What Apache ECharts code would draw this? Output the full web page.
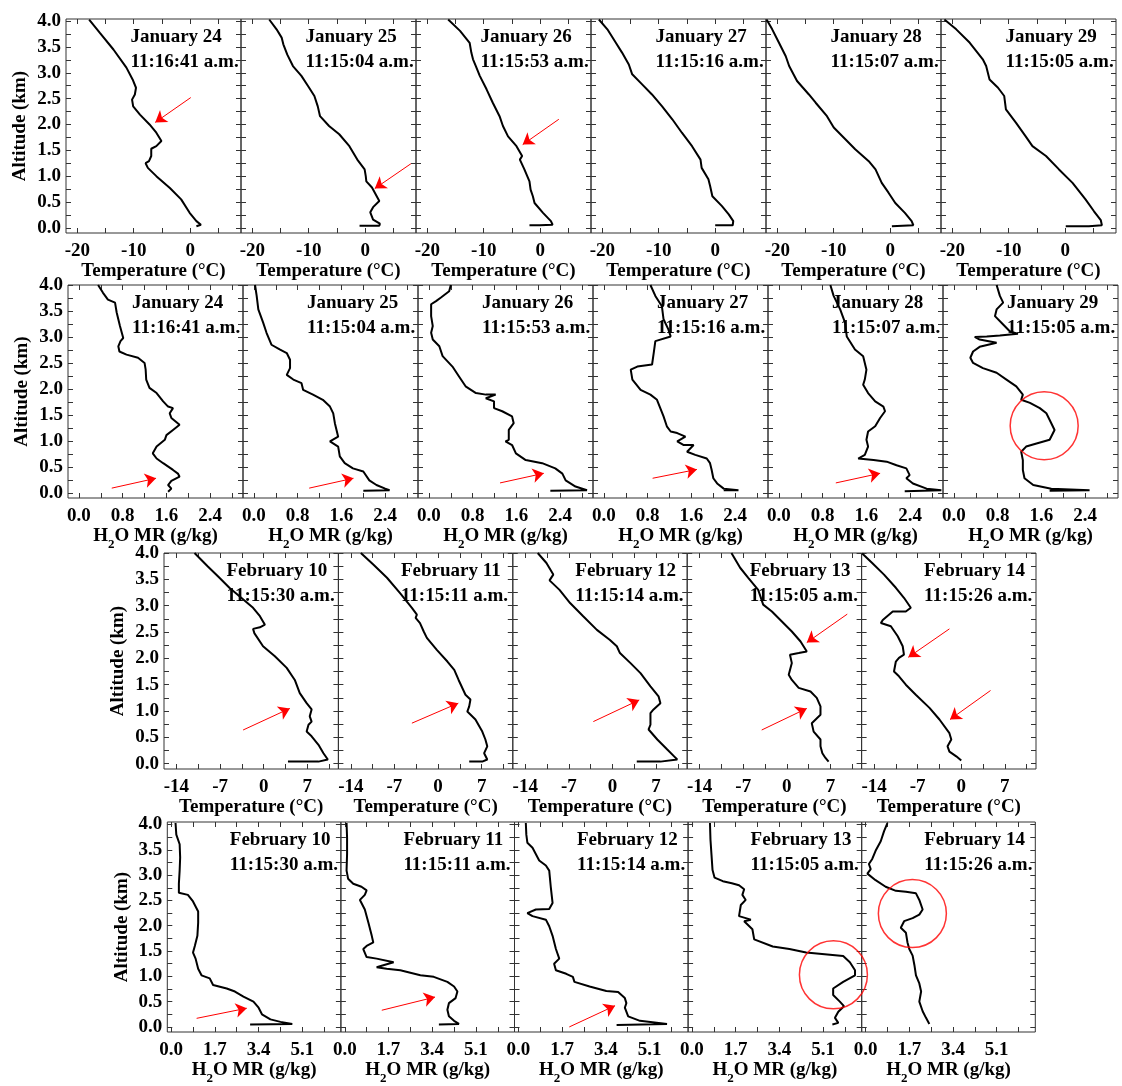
<!DOCTYPE html>
<html><head><meta charset="utf-8">
<script src="https://cdn.jsdelivr.net/npm/echarts@6.0.0/dist/echarts.min.js"></script>
<style>html,body{margin:0;padding:0;background:#fff}#c{width:1122px;height:1086px}</style>
</head><body><div id="c"></div>
<script>
// ---------- labels ----------
const JAN_DATES = ['January 24','January 25','January 26','January 27','January 28','January 29'];
const JAN_TIMES = ['11:16:41 a.m.','11:15:04 a.m.','11:15:53 a.m.','11:15:16 a.m.','11:15:07 a.m.','11:15:05 a.m.'];
const FEB_DATES = ['February 10','February 11','February 12','February 13','February 14'];
const FEB_TIMES = ['11:15:30 a.m.','11:15:11 a.m.','11:15:14 a.m.','11:15:05 a.m.','11:15:26 a.m.'];

// ---------- tick values ----------
const ALT_LABELS = [0,0.5,1,1.5,2,2.5,3,3.5,4];
const ALT_TICKS = [0,0.25,0.5,0.75,1,1.25,1.5,1.75,2,2.25,2.5,2.75,3,3.25,3.5,3.75,4];
const TEMP_JAN_LABELS = [-20,-10,0];
const TEMP_JAN_TICKS = [-20,-15,-10,-5,0,5];
const MR_JAN_LABELS = [0,0.8,1.6,2.4];
const MR_JAN_TICKS = [0,0.4,0.8,1.2,1.6,2.0,2.4,2.8];
const TEMP_FEB_LABELS = [-14,-7,0,7];
const TEMP_FEB_TICKS = [-14,-10.5,-7,-3.5,0,3.5,7,10.5];
const MR_FEB_LABELS = [0,1.7,3.4,5.1];
const MR_FEB_TICKS = [0,0.85,1.7,2.55,3.4,4.25,5.1,5.95];

// ---------- temperature profiles, January [T (°C), altitude (km)] ----------
const T_JAN24 = [[-17.9,4.03],[-16.0,3.77],[-13.6,3.45],[-11.3,3.1],[-10.2,2.87],[-9.6,2.71],[-9.8,2.58],[-10.3,2.48],[-10.1,2.35],[-8.9,2.19],[-7.2,2.0],[-6.0,1.84],[-5.1,1.68],[-6.0,1.58],[-6.9,1.53],[-6.9,1.39],[-7.3,1.29],[-7.9,1.25],[-7.5,1.16],[-6.0,1.0],[-3.6,0.77],[-1.6,0.55],[-0.1,0.29],[1.1,0.13],[1.9,0.06],[1.1,0.03]];
const T_JAN25 = [[-17.0,4.03],[-15.7,3.84],[-14.8,3.68],[-14.5,3.55],[-13.8,3.35],[-12.8,3.13],[-11.3,2.94],[-10.1,2.74],[-9.0,2.55],[-8.4,2.35],[-8.0,2.16],[-6.4,1.97],[-4.6,1.81],[-2.8,1.58],[-1.4,1.32],[-0.1,1.13],[0.1,1.0],[0.2,0.9],[1.2,0.78],[2.5,0.52],[1.4,0.4],[0.9,0.3],[1.4,0.16],[2.6,0.08],[2.5,0.04],[-1.0,0.04]];
const T_JAN26 = [[-16.3,4.03],[-14.2,3.81],[-12.5,3.58],[-12.2,3.39],[-11.9,3.26],[-11.4,3.13],[-10.7,2.94],[-9.5,2.68],[-8.4,2.42],[-7.2,2.16],[-6.6,1.97],[-5.7,1.77],[-4.2,1.58],[-3.2,1.39],[-3.6,1.32],[-2.8,1.13],[-1.9,0.9],[-1.7,0.74],[-1.3,0.61],[-1.0,0.48],[0.5,0.29],[1.9,0.13],[2.2,0.06],[-0.1,0.05],[-1.9,0.05]];
const T_JAN27 = [[-20.6,4.03],[-19.1,3.84],[-17.6,3.58],[-16.5,3.39],[-15.3,3.16],[-14.7,2.97],[-12.9,2.77],[-11.2,2.58],[-9.4,2.35],[-7.6,2.1],[-5.9,1.84],[-4.1,1.58],[-2.6,1.32],[-2.4,1.16],[-1.2,0.94],[-0.9,0.81],[-0.5,0.61],[1.2,0.42],[2.4,0.26],[3.2,0.13],[3.1,0.05],[0.0,0.05]];
const T_JAN28 = [[-21.9,4.03],[-20.9,3.84],[-19.7,3.58],[-18.5,3.32],[-17.9,3.13],[-16.5,2.84],[-14.4,2.58],[-13.2,2.42],[-11.2,2.16],[-10.0,1.94],[-7.9,1.71],[-6.2,1.52],[-3.8,1.29],[-2.6,1.13],[-1.5,0.87],[-0.3,0.68],[0.9,0.48],[2.6,0.29],[3.8,0.13],[4.1,0.05],[0.3,0.03]];
const T_JAN29 = [[-21.4,4.03],[-19.3,3.84],[-16.9,3.58],[-14.6,3.26],[-14.0,3.13],[-13.4,2.87],[-11.9,2.71],[-10.8,2.55],[-10.5,2.29],[-8.7,2.03],[-7.0,1.77],[-5.8,1.58],[-3.4,1.39],[-1.1,1.13],[1.3,0.87],[3.6,0.55],[5.1,0.32],[6.3,0.15],[6.5,0.05],[4.2,0.03],[0.1,0.03]];

// ---------- H2O mixing ratio profiles, January [MR (g/kg), altitude (km)] ----------
const MR_JAN24 = [[0.35,4.0],[0.44,3.85],[0.53,3.72],[0.66,3.66],[0.69,3.47],[0.75,3.21],[0.81,2.98],[0.76,2.92],[0.72,2.82],[0.74,2.72],[0.87,2.66],[1.08,2.6],[1.2,2.5],[1.22,2.37],[1.23,2.18],[1.29,2.02],[1.42,1.92],[1.54,1.76],[1.63,1.66],[1.72,1.63],[1.66,1.53],[1.69,1.44],[1.84,1.31],[1.72,1.21],[1.6,1.11],[1.57,1.02],[1.42,0.89],[1.35,0.76],[1.42,0.66],[1.54,0.57],[1.72,0.44],[1.81,0.37],[1.84,0.31],[1.69,0.23],[1.63,0.15],[1.69,0.08],[1.63,0.02]];
const MR_JAN25 = [[0.02,4.0],[0.05,3.79],[0.08,3.53],[0.17,3.27],[0.23,3.08],[0.32,2.85],[0.47,2.76],[0.6,2.69],[0.66,2.56],[0.66,2.4],[0.6,2.27],[0.72,2.18],[0.87,2.11],[0.9,1.98],[1.08,1.89],[1.26,1.79],[1.39,1.66],[1.45,1.53],[1.48,1.34],[1.54,1.08],[1.39,0.99],[1.54,0.89],[1.57,0.7],[1.66,0.57],[1.81,0.47],[2.0,0.41],[2.11,0.24],[2.24,0.15],[2.4,0.08],[2.48,0.05],[2.0,0.04]];
const MR_JAN26 = [[0.4,4.0],[0.37,3.88],[0.22,3.76],[0.13,3.69],[0.04,3.63],[0.04,3.4],[0.07,3.21],[0.04,3.08],[0.07,2.95],[0.19,2.82],[0.25,2.63],[0.43,2.43],[0.55,2.24],[0.67,2.05],[0.86,1.92],[1.04,1.89],[1.22,1.89],[1.04,1.82],[1.19,1.76],[1.19,1.63],[1.34,1.57],[1.52,1.47],[1.55,1.34],[1.46,1.21],[1.46,1.02],[1.4,0.99],[1.52,0.92],[1.59,0.76],[1.77,0.63],[2.07,0.57],[2.31,0.47],[2.44,0.37],[2.5,0.24],[2.68,0.12],[2.89,0.05],[2.22,0.04]];
const MR_JAN27 = [[0.85,4.0],[0.94,3.79],[1.06,3.59],[1.09,3.34],[1.18,3.14],[1.22,3.01],[0.94,2.92],[0.91,2.69],[0.88,2.47],[0.61,2.43],[0.49,2.37],[0.52,2.18],[0.67,1.98],[0.85,1.89],[0.97,1.79],[1.03,1.63],[1.09,1.47],[1.15,1.28],[1.22,1.18],[1.34,1.15],[1.49,1.08],[1.34,0.99],[1.46,0.92],[1.64,0.92],[1.52,0.79],[1.67,0.73],[1.88,0.66],[1.94,0.57],[1.97,0.44],[2.0,0.28],[2.07,0.18],[2.19,0.08],[2.46,0.05],[2.19,0.05]];
const MR_JAN28 = [[0.94,4.0],[1.0,3.79],[1.12,3.53],[1.21,3.27],[1.24,3.01],[1.39,2.76],[1.54,2.63],[1.6,2.37],[1.57,2.18],[1.54,2.08],[1.63,1.92],[1.76,1.76],[1.91,1.66],[1.94,1.57],[1.85,1.44],[1.76,1.28],[1.63,1.18],[1.6,1.02],[1.63,0.89],[1.57,0.73],[1.45,0.66],[1.73,0.63],[1.97,0.6],[2.15,0.53],[2.33,0.47],[2.39,0.34],[2.33,0.28],[2.45,0.18],[2.7,0.08],[2.97,0.05],[2.3,0.03]];
const MR_JAN29 = [[0.78,4.0],[0.84,3.79],[0.9,3.66],[0.78,3.53],[0.75,3.4],[0.9,3.24],[1.02,3.11],[1.17,3.06],[0.84,3.03],[0.6,3.01],[0.38,3.0],[0.47,2.95],[0.78,2.89],[0.47,2.81],[0.35,2.72],[0.3,2.6],[0.35,2.5],[0.53,2.4],[0.78,2.31],[0.96,2.18],[1.14,2.05],[1.26,1.89],[1.23,1.79],[1.39,1.73],[1.57,1.63],[1.69,1.53],[1.78,1.34],[1.84,1.21],[1.75,1.02],[1.51,0.95],[1.32,0.89],[1.23,0.79],[1.26,0.63],[1.26,0.44],[1.29,0.28],[1.45,0.15],[1.78,0.08],[2.48,0.05],[1.75,0.04]];

// ---------- temperature profiles, February ----------
const T_FEB10 = [[-11.1,4.0],[-9.0,3.75],[-7.1,3.53],[-5.5,3.34],[-3.6,3.15],[-1.7,2.96],[-0.6,2.8],[0.2,2.64],[-0.6,2.59],[-1.7,2.56],[-1.5,2.48],[-0.1,2.23],[1.8,2.04],[3.7,1.82],[5.0,1.59],[5.8,1.34],[6.9,1.15],[7.7,1.03],[7.4,0.9],[7.7,0.8],[7.2,0.74],[6.9,0.61],[7.7,0.52],[8.8,0.36],[9.6,0.2],[10.3,0.08],[8.8,0.04],[3.9,0.04]];
const T_FEB11 = [[-12.4,4.0],[-10.4,3.78],[-8.2,3.53],[-6.1,3.24],[-4.2,2.96],[-3.4,2.83],[-3.6,2.77],[-2.9,2.67],[-2.3,2.51],[-1.8,2.39],[-0.2,2.16],[1.5,1.94],[2.6,1.78],[3.3,1.59],[4.4,1.31],[5.2,1.22],[5.0,1.09],[4.7,0.99],[6.0,0.84],[7.1,0.61],[7.6,0.46],[7.9,0.33],[7.4,0.2],[7.9,0.08],[7.1,0.04],[5.0,0.04]];
const T_FEB12 = [[-12.0,4.0],[-10.6,3.81],[-9.5,3.59],[-10.1,3.48],[-8.5,3.3],[-6.8,3.05],[-4.7,2.8],[-2.5,2.54],[-0.4,2.35],[0.7,2.23],[1.2,2.1],[2.9,1.91],[4.5,1.72],[6.1,1.47],[7.4,1.28],[7.7,1.15],[6.6,1.03],[6.1,0.96],[6.1,0.74],[5.8,0.65],[7.2,0.46],[8.8,0.27],[9.9,0.14],[10.4,0.08],[7.7,0.04],[3.9,0.04]];
const T_FEB13 = [[-8.9,4.0],[-7.5,3.72],[-6.2,3.53],[-4.6,3.3],[-3.8,3.02],[-2.4,2.89],[-0.8,2.7],[0.8,2.51],[2.2,2.32],[3.2,2.13],[1.9,2.1],[0.5,2.07],[0.8,1.91],[0.3,1.69],[0.8,1.59],[1.9,1.44],[3.8,1.37],[4.8,1.25],[5.4,1.09],[5.4,0.93],[4.0,0.77],[4.3,0.61],[5.4,0.46],[5.4,0.33],[5.7,0.2],[6.2,0.11],[6.7,0.04]];
const T_FEB14 = [[-15.9,3.99],[-14.3,3.81],[-12.4,3.59],[-10.5,3.34],[-9.2,3.15],[-8.1,2.96],[-8.9,2.89],[-11.0,2.89],[-12.6,2.73],[-12.9,2.67],[-11.3,2.61],[-10.2,2.42],[-9.4,2.23],[-9.2,2.07],[-10.0,2.01],[-10.5,1.94],[-10.8,1.75],[-10.0,1.66],[-8.9,1.5],[-7.3,1.31],[-5.1,1.06],[-3.5,0.84],[-1.9,0.58],[-1.6,0.46],[-2.2,0.33],[-1.9,0.23],[-0.8,0.14],[0.0,0.06]];

// ---------- H2O mixing ratio profiles, February ----------
const MR_FEB10 = [[0.17,4.03],[0.2,3.8],[0.33,3.61],[0.35,3.35],[0.33,3.09],[0.3,2.83],[0.3,2.65],[0.65,2.61],[0.85,2.48],[1.05,2.28],[1.05,2.06],[1.02,1.8],[0.92,1.6],[0.85,1.47],[0.95,1.35],[1.05,1.15],[1.18,1.02],[1.5,0.96],[1.63,0.83],[2.16,0.76],[2.48,0.7],[2.81,0.6],[3.2,0.5],[3.4,0.38],[3.53,0.25],[3.86,0.15],[4.25,0.1],[4.71,0.06],[3.07,0.05]];
const MR_FEB11 = [[0.07,4.03],[0.09,3.74],[0.09,3.42],[0.07,3.09],[0.13,2.93],[0.33,2.83],[0.65,2.77],[0.85,2.7],[0.78,2.61],[0.59,2.51],[0.78,2.32],[0.92,2.06],[1.05,1.8],[1.11,1.67],[0.85,1.6],[0.72,1.54],[0.85,1.38],[1.24,1.35],[1.9,1.28],[1.5,1.22],[1.24,1.18],[1.63,1.15],[2.16,1.12],[2.94,1.02],[3.46,0.99],[3.99,0.89],[4.25,0.8],[4.38,0.7],[4.31,0.57],[4.05,0.47],[3.99,0.34],[4.05,0.21],[4.25,0.12],[4.44,0.06],[3.66,0.05]];
const MR_FEB12 = [[0.29,4.03],[0.31,3.8],[0.35,3.64],[0.55,3.54],[0.81,3.29],[1.07,3.19],[1.2,3.09],[1.26,2.77],[1.33,2.45],[1.2,2.33],[0.68,2.32],[0.35,2.25],[0.55,2.19],[1.07,2.12],[1.2,1.99],[1.33,1.8],[1.46,1.54],[1.59,1.35],[1.39,1.25],[1.46,1.12],[1.86,1.05],[2.12,0.99],[2.18,0.89],[2.77,0.8],[3.42,0.71],[3.88,0.69],[4.14,0.57],[4.2,0.47],[4.14,0.38],[4.27,0.21],[4.73,0.12],[5.78,0.06],[3.82,0.04]];
const MR_FEB13 = [[0.7,4.03],[0.72,3.7],[0.76,3.4],[0.8,3.1],[0.88,2.95],[1.2,2.88],[1.55,2.84],[1.83,2.8],[2.03,2.72],[1.96,2.61],[2.09,2.51],[1.9,2.41],[1.83,2.19],[2.29,2.12],[2.03,2.09],[2.35,1.93],[2.42,1.73],[3.14,1.59],[3.79,1.54],[4.44,1.47],[5.88,1.4],[6.14,1.28],[6.34,1.12],[6.34,1.02],[5.88,0.89],[5.49,0.76],[5.49,0.63],[5.75,0.5],[5.91,0.41],[5.69,0.3],[5.56,0.18],[5.69,0.08],[5.46,0.05]];
const MR_FEB14 = [[0.85,4.03],[0.72,3.87],[0.59,3.67],[0.39,3.48],[0.26,3.32],[0.13,3.22],[0.2,3.12],[0.07,3.03],[0.39,2.9],[0.78,2.77],[1.18,2.69],[1.57,2.67],[1.96,2.64],[2.09,2.51],[2.22,2.32],[2.09,2.22],[1.83,2.15],[1.5,2.09],[1.37,1.96],[1.57,1.86],[1.63,1.67],[1.7,1.54],[1.83,1.41],[1.9,1.22],[1.96,1.02],[2.09,0.86],[2.16,0.7],[2.09,0.5],[2.22,0.31],[2.35,0.18],[2.48,0.06]];

// ---------- red annotations: arrows [x1,y1,x2,y2] (tail -> head), circle centres [x,y] ----------
const ARROWS_T_JAN = [[[0.1,2.52,-6.2,2.04]],[[8.1,1.24,1.7,0.76]],[[3.3,2.1,-3.1,1.61]],[],[],[]];
const ARROWS_MR_JAN = [[[0.6,0.09,1.41,0.28]],[[1.01,0.09,1.82,0.28]],[[1.3,0.19,2.1,0.375]],[[0.89,0.28,1.7,0.45]],[[1.04,0.19,1.85,0.375]],[]];
const ARROWS_T_FEB = [[[-3.3,0.64,4.2,1.05]],[[-4.2,0.77,3.25,1.15]],[[-3.07,0.8,4.3,1.21]],[[9.7,2.84,3.2,2.3],[-4.04,0.64,3.2,1.05]],[[-1.9,2.56,-8.5,2.02],[4.7,1.39,-1.8,0.84]]];
const ARROWS_MR_FEB = [[[0.99,0.17,2.94,0.37]],[[1.44,0.33,3.51,0.59]],[[1.98,0.0,3.76,0.42]],[],[]];
const CIRCLES_MR_JAN = [null,null,null,null,null,[1.65,1.29]];
const CIRCLES_MR_FEB = [null,null,null,[5.5,1.03],[1.82,2.24]];

// ---------- layout ----------
const FONT = '"Liberation Serif","Times New Roman",serif';
const AXIS_COLOR = '#333';
const RED = '#ff0000';
const TEMP_NAME = '{a|Temperature (°C)}';
const MR_NAME = '{a|H}{s|2}{a|O MR (g/kg)}';
const ALT_NAME = '{b|Altitude (km)}';

const ROWS = [
  {top:19, h:214, left:66, w:175, xMin:-22, xMax:9, yMax:4.04, labels:TEMP_JAN_LABELS, ticks:TEMP_JAN_TICKS, dec:0, name:TEMP_NAME,
   profiles:[T_JAN24,T_JAN25,T_JAN26,T_JAN27,T_JAN28,T_JAN29], dates:JAN_DATES, times:JAN_TIMES, arrows:ARROWS_T_JAN, circles:null, tdx:64.5},
  {top:285, h:213, left:68, w:175, xMin:-0.2, xMax:3.0, yMax:4.0, labels:MR_JAN_LABELS, ticks:MR_JAN_TICKS, dec:1, name:MR_NAME,
   profiles:[MR_JAN24,MR_JAN25,MR_JAN26,MR_JAN27,MR_JAN28,MR_JAN29], dates:JAN_DATES, times:JAN_TIMES, arrows:ARROWS_MR_JAN, circles:CIRCLES_MR_JAN, tdx:64},
  {top:553, h:216, left:164, w:174.4, xMin:-16, xMax:12, yMax:4.0, labels:TEMP_FEB_LABELS, ticks:TEMP_FEB_TICKS, dec:0, name:TEMP_NAME,
   profiles:[T_FEB10,T_FEB11,T_FEB12,T_FEB13,T_FEB14], dates:FEB_DATES, times:FEB_TIMES, arrows:ARROWS_T_FEB, circles:null, tdx:62.5},
  {top:822, h:214, left:167.3, w:173.6, xMin:-0.15, xMax:6.6, yMax:4.05, labels:MR_FEB_LABELS, ticks:MR_FEB_TICKS, dec:1, name:MR_NAME,
   profiles:[MR_FEB10,MR_FEB11,MR_FEB12,MR_FEB13,MR_FEB14], dates:FEB_DATES, times:FEB_TIMES, arrows:ARROWS_MR_FEB, circles:CIRCLES_MR_FEB, tdx:62.5}
];

const textBase = {color:'#000', fontFamily:FONT, fontWeight:'bold', fontSize:19};
const nameStyle = Object.assign({}, textBase, {rich:{
  a:Object.assign({}, textBase, {verticalAlign:'bottom', padding:[0,0,5,0]}),
  s:Object.assign({}, textBase, {fontSize:13, verticalAlign:'bottom'}),
  b:Object.assign({}, textBase)
}});
const grids = [], xAxes = [], yAxes = [], series = [], graphics = [];

ROWS.forEach((row) => {
  row.profiles.forEach((prof, c) => {
    const g = grids.length;
    const left = row.left + c * row.w;
    grids.push({left:left, top:row.top, width:row.w, height:row.h, show:true, borderColor:AXIS_COLOR, borderWidth:1, backgroundColor:'rgba(0,0,0,0)'});
    const tickStyle = {show:true, inside:true, length:5, lineStyle:{color:AXIS_COLOR, width:1}};
    xAxes.push({
      type:'value', gridIndex:g, position:'bottom', min:row.xMin, max:row.xMax,
      axisLine:{show:false, onZero:false}, splitLine:{show:false},
      axisTick:Object.assign({customValues:row.ticks}, tickStyle),
      axisLabel:Object.assign({customValues:row.labels, margin:9, formatter:(v)=>Number(v).toFixed(row.dec)}, textBase),
      name:row.name, nameLocation:'middle', nameGap:29, nameTextStyle:nameStyle
    });
    xAxes.push({
      type:'value', gridIndex:g, position:'top', min:row.xMin, max:row.xMax,
      axisLine:{show:false, onZero:false}, splitLine:{show:false},
      axisTick:Object.assign({customValues:row.ticks}, tickStyle),
      axisLabel:{show:false}
    });
    yAxes.push({
      type:'value', gridIndex:g, position:'left', min:-0.1, max:row.yMax,
      axisLine:{show:false, onZero:false}, splitLine:{show:false},
      axisTick:Object.assign({customValues:ALT_TICKS}, tickStyle),
      axisLabel:Object.assign({show:c===0, customValues:ALT_LABELS, margin:5, formatter:(v)=>Number(v).toFixed(1)}, textBase),
      name:c===0 ? ALT_NAME : '', nameLocation:'middle', nameGap:36, nameTextStyle:nameStyle
    });
    yAxes.push({
      type:'value', gridIndex:g, position:'right', min:-0.1, max:row.yMax,
      axisLine:{show:false, onZero:false}, splitLine:{show:false},
      axisTick:Object.assign({customValues:ALT_TICKS}, tickStyle),
      axisLabel:{show:false}
    });
    const arrows = row.arrows[c] || [];
    series.push({
      type:'line', xAxisIndex:2*g, yAxisIndex:2*g, data:prof, showSymbol:false, symbol:'none',
      lineStyle:{color:'#000', width:2}, silent:true, z:3,
      markLine:{
        silent:true, symbol:['none','arrow'], symbolSize:11, animation:false,
        label:{show:false}, lineStyle:{color:RED, width:1, type:'solid'}, itemStyle:{color:RED},
        data:arrows.map(a => [{coord:[a[0],a[1]]},{coord:[a[2],a[3]]}])
      }
    });
    if (row.circles && row.circles[c]) {
      series.push({
        type:'scatter', xAxisIndex:2*g, yAxisIndex:2*g, data:[row.circles[c]], symbol:'circle', symbolSize:68,
        itemStyle:{color:'rgba(0,0,0,0)', borderColor:RED, borderWidth:1.5}, silent:true, z:4, clip:false
      });
    }
    graphics.push({type:'text', x:left + row.tdx, y:row.top + 18, z:100,
      style:{text:row.dates[c], fill:'#000', font:'bold 19px ' + FONT, verticalAlign:'middle', textVerticalAlign:'middle'}});
    graphics.push({type:'text', x:left + row.tdx, y:row.top + 43, z:100,
      style:{text:row.times[c], fill:'#000', font:'bold 19px ' + FONT, verticalAlign:'middle', textVerticalAlign:'middle'}});
  });
});

const chart = echarts.init(document.getElementById('c'), null, {renderer:'canvas'});
chart.setOption({
  animation:false, backgroundColor:'#fff',
  grid:grids, xAxis:xAxes, yAxis:yAxes, series:series, graphic:graphics
});
</script>
</body></html>
